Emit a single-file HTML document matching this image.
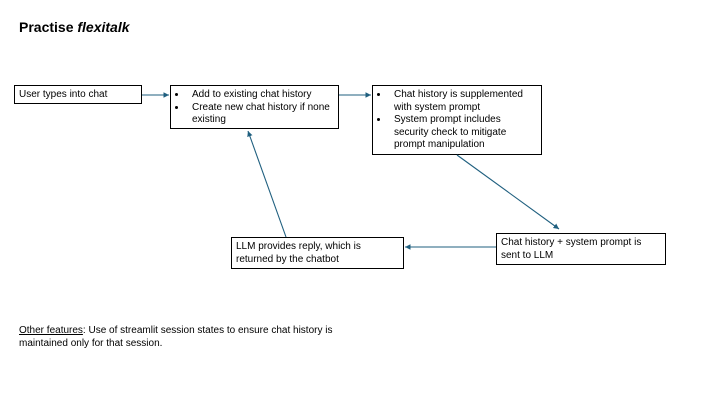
<!DOCTYPE html>
<html><head><style>
body{margin:0;width:720px;height:405px;background:#fff;position:relative;font-family:"Liberation Sans",sans-serif;color:#000;overflow:hidden}
.b{position:absolute;border:1.3px solid #000;box-sizing:border-box;font-size:10px;line-height:12.5px;padding:3px 4px 2px 4px;white-space:nowrap}
ul{margin:0;padding-left:12px}
li{padding-left:5px}
</style></head><body>
<div style="position:absolute;left:19px;top:19px;font-size:14px;font-weight:bold">Practise <i>flexitalk</i></div>
<div class="b" style="left:14px;top:85px;width:128px;height:19px;padding-top:3px">User types into chat</div>
<div class="b" style="left:170px;top:85px;width:169px;height:44px"><ul><li>Add to existing chat history</li><li>Create new chat history if none<br>existing</li></ul></div>
<div class="b" style="left:372px;top:85px;width:170px;height:70px"><ul><li>Chat history is supplemented<br>with system prompt</li><li>System prompt includes<br>security check to mitigate<br>prompt manipulation</li></ul></div>
<div class="b" style="left:496px;top:233px;width:170px;height:32px">Chat history + system prompt is<br>sent to LLM</div>
<div class="b" style="left:231px;top:237px;width:173px;height:32px">LLM provides reply, which is<br>returned by the chatbot</div>
<svg width="720" height="405" style="position:absolute;left:0;top:0">
<defs><marker id="a" markerWidth="6" markerHeight="6" refX="5" refY="3" orient="auto"><path d="M0,0.5 L5,3 L0,5.5z" fill="#1f5f7f"/></marker></defs>
<g stroke="#1f5f7f" stroke-width="1.1" fill="none" marker-end="url(#a)">
<line x1="142" y1="95" x2="169" y2="95"/>
<line x1="339" y1="95" x2="371" y2="95"/>
<line x1="457" y1="155" x2="559" y2="229"/>
<line x1="496" y1="247" x2="405" y2="247"/>
<line x1="286" y1="237" x2="248" y2="131"/>
</g></svg>
<div style="position:absolute;left:19px;top:324px;font-size:10px;line-height:13px;width:340px"><u>Other features</u>: Use of streamlit session states to ensure chat history is maintained only for that session.</div>
</body></html>
